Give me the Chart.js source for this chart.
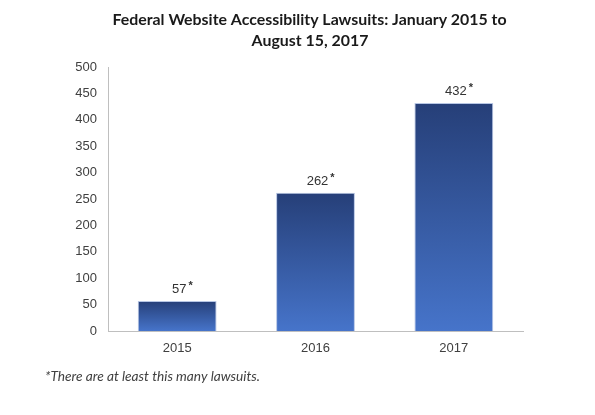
<!DOCTYPE html>
<html>
<head>
<meta charset="utf-8">
<script src="https://cdn.jsdelivr.net/npm/chart.js@4"></script>
<style>
  html, body { margin: 0; padding: 0; background: #fff; }
  #wrap { width: 595px; height: 415px; }
</style>
</head>
<body>
<div id="wrap"><canvas id="lawsuitChart" width="595" height="415"></canvas></div>
<script>
// chart data
const years = ["2015", "2016", "2017"];
const lawsuits = [57, 262, 432];
const yTicks = [0, 50, 100, 150, 200, 250, 300, 350, 400, 450, 500];
const titleLines = ["Federal Website Accessibility Lawsuits: January 2015 to", "August 15, 2017"];
const footnote = "*There are at least this many lawsuits.";

// title, footnote and value labels
const textPlugin = {
  id: "texts",
  afterDraw(chart) {
    const ctx = chart.ctx;
    ctx.save();
    ctx.fillStyle = "#1a1a1a";
    ctx.font = "bold 15.9px Lato";
    ctx.textAlign = "center";
    ctx.textBaseline = "alphabetic";
    ctx.fillText(titleLines[0], 309.5, 25);
    ctx.fillText(titleLines[1], 310, 46);

    ctx.fillStyle = "#404040";
    ctx.font = "italic 13.7px Lato";
    ctx.textAlign = "left";
    ctx.fillText(footnote, 45, 381);

    // value labels with asterisk
    const meta = chart.getDatasetMeta(0);
    meta.data.forEach((bar, i) => {
      const txt = String(lawsuits[i]);
      ctx.font = "13px 'Liberation Sans'";
      const w = ctx.measureText(txt).width;
      ctx.fillStyle = "#333";
      ctx.textAlign = "left";
      ctx.fillText(txt, bar.x - w / 2 + 2, bar.y - 8);
      ctx.font = "bold 11px 'Liberation Sans'";
      ctx.fillText("*", bar.x + w / 2 + 4, bar.y - 12);
    });
    ctx.restore();
  }
};

function barGradient(context) {
  const chart = context.chart;
  const area = chart.chartArea;
  const yScale = chart.scales.y;
  if (!area || !yScale) return "#3a5ea8";
  const top = yScale.getPixelForValue(context.raw);
  if (!isFinite(top)) return "#3a5ea8";
  const g = chart.ctx.createLinearGradient(0, top, 0, area.bottom);
  g.addColorStop(0, "#263f78");
  g.addColorStop(1, "#4674ca");
  return g;
}

new Chart(document.getElementById("lawsuitChart"), {
  type: "bar",
  data: {
    labels: years,
    datasets: [{
      data: lawsuits,
      backgroundColor: barGradient,
      borderColor: "#b7c6e4",
      borderWidth: 1,
      barPercentage: 0.57,
      categoryPercentage: 1
    }]
  },
  options: {
    responsive: false,
    animation: false,
    layout: { padding: { top: 67, right: 72, bottom: 54, left: 0 } },
    plugins: {
      legend: { display: false },
      tooltip: { enabled: false }
    },
    scales: {
      x: {
        grid: { display: false, drawTicks: false },
        border: { display: true, color: "#bfbfbf", width: 1 },
        ticks: { color: "#404040", font: { family: "'Liberation Sans'", size: 13 }, padding: 10 },
        afterFit(scale) { scale.height = 30; }
      },
      y: {
        min: 0,
        max: 500,
        grid: { display: false, drawTicks: false },
        border: { display: true, color: "#bfbfbf", width: 1 },
        afterBuildTicks(scale) { scale.ticks = yTicks.map(v => ({ value: v })); },
        ticks: { color: "#404040", font: { family: "'Liberation Sans'", size: 13 }, padding: 11 },
        afterFit(scale) { scale.width = 108; }
      }
    }
  },
  plugins: [textPlugin]
});
</script>
</body>
</html>
